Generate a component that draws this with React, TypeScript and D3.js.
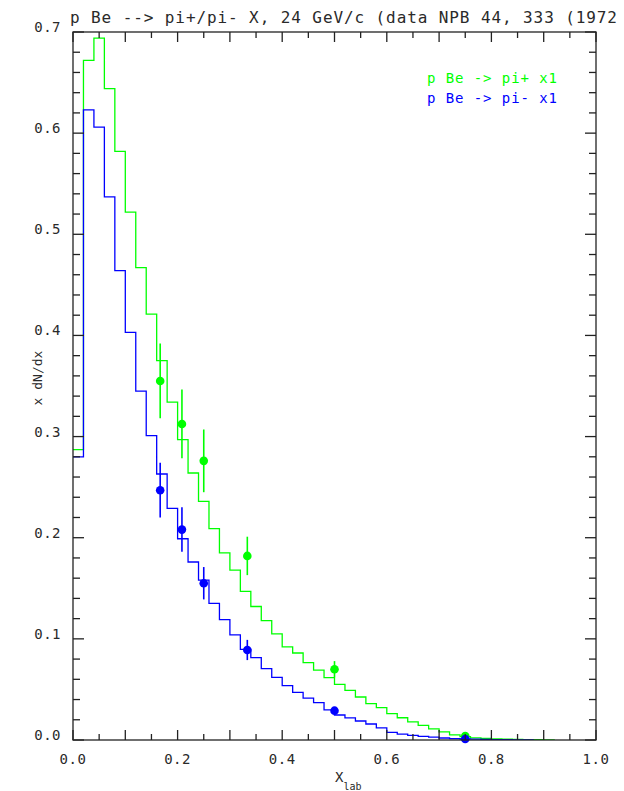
import React from "react";
import * as d3 from "d3";

const W = 624;
const H = 791;

const TITLE = "p Be --> pi+/pi- X, 24 GeV/c (data NPB 44, 333 (1972";
const SERIES_NAMES = ["p Be -> pi+ x1", "p Be -> pi- x1"];
const SERIES_COLORS = ["#00ff00", "#0000ff"];

const BIN_WIDTH = 0.02;

// pi+ histogram (bins of 0.02 starting at 0)
const piPlusHist = [
  0.287, 0.672, 0.694, 0.644, 0.582, 0.522, 0.467, 0.421, 0.375, 0.334,
  0.297, 0.264, 0.236, 0.209, 0.185, 0.168, 0.147, 0.132, 0.118, 0.105,
  0.092, 0.086, 0.0765, 0.069, 0.0616, 0.055, 0.049, 0.0425, 0.036, 0.032,
  0.026, 0.022, 0.018, 0.0145, 0.011, 0.008, 0.005, 0.0033, 0.0022, 0.0015,
  0.001, 0.0008, 0.0005, 0.0004, 0.0003, 0.0002,
];

// pi- histogram
const piMinusHist = [
  0.28, 0.623, 0.606, 0.537, 0.464, 0.403, 0.345, 0.301, 0.263, 0.229,
  0.199, 0.176, 0.158, 0.135, 0.119, 0.104, 0.0897, 0.0814, 0.0705, 0.062,
  0.0537, 0.047, 0.0415, 0.037, 0.0297, 0.0247, 0.0218, 0.0188, 0.0158, 0.012,
  0.0075, 0.0058, 0.0045, 0.0035, 0.0028, 0.002, 0.0014, 0.001, 0.0008, 0.0006,
  0.0004, 0.0003, 0.0002, 0.0001,
];

// data points
const dataX = [0.1667, 0.2083, 0.25, 0.3333, 0.5, 0.75];
const piPlusY = [0.355, 0.3125, 0.276, 0.182, 0.07, 0.004];
const piPlusErr = [0.037, 0.034, 0.031, 0.019, 0.008, 0.001];
const piMinusY = [0.247, 0.208, 0.155, 0.089, 0.029, 0.001];
const piMinusErr = [0.027, 0.022, 0.016, 0.01, 0.003, 0.0005];

const xTickLabels = ["0.0", "0.2", "0.4", "0.6", "0.8", "1.0"];
const yTickLabels = ["0.0", "0.1", "0.2", "0.3", "0.4", "0.5", "0.6", "0.7"];

const FONT = "'DejaVu Sans Mono', monospace";
const TEXT = "#2a2a2a";

export default function App() {
  const x = d3.scaleLinear().domain([0, 1]).range([73, 596]);
  const y = d3.scaleLinear().domain([0, 0.7]).range([740, 32]);

  const histPath = (vals: number[]) => {
    const pts: [number, number][] = vals.map((v, i) => [i * BIN_WIDTH, v]);
    const end = vals.length * BIN_WIDTH;
    pts.push([end, vals[vals.length - 1]]);
    pts.push([end, 0]);
    return d3
      .line<[number, number]>()
      .x((d) => x(d[0]))
      .y((d) => y(d[1]))
      .curve(d3.curveStepAfter)(pts) as string;
  };

  const xMinor = d3.range(0, 21).map((i) => i * 0.05);
  const yMinor = d3.range(0, 36).map((i) => i * 0.02);

  const series = [
    { hist: piPlusHist, ys: piPlusY, errs: piPlusErr, color: SERIES_COLORS[0] },
    { hist: piMinusHist, ys: piMinusY, errs: piMinusErr, color: SERIES_COLORS[1] },
  ];

  return (
    <svg
      width={W}
      height={H}
      style={{ position: "absolute", left: 0, top: 0, background: "#fff" }}
    >
      <defs>
        <clipPath id="plotclip">
          <rect x={73} y={32} width={523} height={708} />
        </clipPath>
      </defs>
      <rect x={0} y={0} width={W} height={H} fill="#fff" />

      {/* histograms */}
      <g clipPath="url(#plotclip)">
        {series.map((s, k) => (
          <path
            key={"h" + k}
            d={histPath(s.hist)}
            fill="none"
            stroke={s.color}
            strokeWidth={1.3}
          />
        ))}
      </g>

      {/* data points with error bars */}
      {series.map((s, k) => (
        <g key={"p" + k}>
          {dataX.map((xv, i) => (
            <g key={i}>
              <line
                x1={x(xv)}
                x2={x(xv)}
                y1={y(s.ys[i] - s.errs[i])}
                y2={y(s.ys[i] + s.errs[i])}
                stroke={s.color}
                strokeWidth={1.6}
              />
              <circle cx={x(xv)} cy={y(s.ys[i])} r={4.3} fill={s.color} />
            </g>
          ))}
        </g>
      ))}

      {/* frame */}
      <rect
        x={73}
        y={32}
        width={523}
        height={708}
        fill="none"
        stroke="#222"
        strokeWidth={1.3}
      />

      {/* x ticks */}
      {xMinor.map((v, i) => {
        const major = i % 2 === 0;
        const len = major ? 10 : 6;
        return (
          <g key={"xt" + i}>
            <line x1={x(v)} x2={x(v)} y1={740} y2={740 - len} stroke="#222" strokeWidth={1.3} />
            <line x1={x(v)} x2={x(v)} y1={32} y2={32 + len} stroke="#222" strokeWidth={1.3} />
          </g>
        );
      })}
      {/* y ticks */}
      {yMinor.map((v, i) => {
        const major = i % 5 === 0;
        const len = major ? 11 : 7;
        return (
          <g key={"yt" + i}>
            <line x1={73} x2={73 + len} y1={y(v)} y2={y(v)} stroke="#222" strokeWidth={1.3} />
            <line x1={596} x2={596 - len} y1={y(v)} y2={y(v)} stroke="#222" strokeWidth={1.3} />
          </g>
        );
      })}

      {/* x tick labels */}
      {xTickLabels.map((t) => (
        <text
          key={"xl" + t}
          x={x(+t)}
          y={764}
          textAnchor="middle"
          fontFamily={FONT}
          fontSize={14}
          letterSpacing={0.5}
          fill={TEXT}
        >
          {t}
        </text>
      ))}
      {/* y tick labels */}
      {yTickLabels.map((t) => (
        <text
          key={"yl" + t}
          x={61}
          y={y(+t)}
          textAnchor="end"
          fontFamily={FONT}
          fontSize={14}
          letterSpacing={0.5}
          fill={TEXT}
        >
          {t}
        </text>
      ))}

      {/* axis titles */}
      <text x={335} y={782} fontFamily={FONT} fontSize={14} fill={TEXT}>
        X
        <tspan fontSize={10} dy={8}>
          lab
        </tspan>
      </text>
      <text
        transform="translate(42,378) rotate(-90)"
        textAnchor="middle"
        fontFamily={FONT}
        fontSize={13}
        fill={TEXT}
      >
        x dN/dx
      </text>

      {/* title */}
      <text
        x={70}
        y={23}
        fontFamily={FONT}
        fontSize={16}
        fill={TEXT}
        textLength={547}
        lengthAdjust="spacing"
      >
        {TITLE}
      </text>

      {/* legend */}
      {SERIES_NAMES.map((n, i) => (
        <text
          key={n}
          x={427}
          y={83 + i * 20}
          fontFamily={FONT}
          fontSize={14}
          fill={SERIES_COLORS[i]}
          textLength={130}
          lengthAdjust="spacing"
        >
          {n}
        </text>
      ))}
    </svg>
  );
}
